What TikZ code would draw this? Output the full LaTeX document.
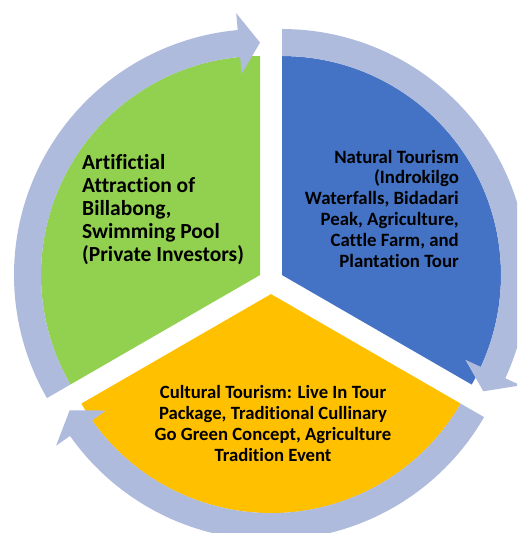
\documentclass[tikz,border=0pt]{standalone}
\usepackage{fontspec}
\setmainfont{Carlito}[BoldFont={Carlito Bold}, Ligatures=NoCommon]
\definecolor{segG}{RGB}{146,208,80}
\definecolor{segB}{RGB}{68,114,196}
\definecolor{segO}{RGB}{255,192,0}
\definecolor{arrowfill}{RGB}{175,187,221}
\newcommand\cyclearrow[3]{%
  \begin{scope}[shift={(#1)}]
    \fill[arrowfill] (#2:246) arc[start angle=#2, end angle={#3+5.2}, radius=246]
      -- ({#3+5.2}:263) -- (#3:232.5) -- ({#3+5.2}:202) -- ({#3+5.2}:219)
      arc[start angle={#3+5.2}, end angle=#2, radius=219] -- cycle;
  \end{scope}}
\begin{document}
\begin{tikzpicture}[x=1pt,y=1pt,
  txt/.style={inner sep=0pt, text=black}]
\useasboundingbox (0,0) rectangle (517,533);
\fill[white] (0,0) rectangle (517,533);
\clip (0,0) rectangle (517,533);
\coordinate (G) at (260,257.95);
\coordinate (B) at (282,257.95);
\coordinate (O) at (271,238.9);
% segments
\fill[segG] (G) -- ++(90:219) arc[start angle=90, end angle=210, radius=219] -- cycle;
\fill[segB] (B) -- ++(90:219) arc[start angle=90, end angle=-30, radius=219] -- cycle;
\fill[segO] (O) -- ++(210:219) arc[start angle=210, end angle=330, radius=219] -- cycle;
% arrows
\cyclearrow{G}{210}{90}
\cyclearrow{B}{90}{-30}
\cyclearrow{O}{-30}{-150}
% texts
\node[txt, anchor=north west, align=left, font=\bfseries\fontsize{21.5}{23}\selectfont] (tg) at (82,379)
  {Artifictial\\Attraction of\\Billabong,\\Swimming Pool\\(Private Investors)};
\node[txt, anchor=north east, align=right, font=\bfseries\fontsize{18.8}{20.8}\selectfont] (tb) at (459,383.2)
  {Natural Tourism\\(Indrokilgo\\Waterfalls, Bidadari\\Peak, Agriculture,\\Cattle Farm, and\\Plantation Tour};
\node[txt, anchor=north, align=center, font=\bfseries\fontsize{18.7}{21}\selectfont] (to) at (273,148.1)
  {Cultural Tourism: Live In Tour\\Package, Traditional Cullinary\\Go Green Concept, Agriculture\\Tradition Event};
\end{tikzpicture}
\end{document}
